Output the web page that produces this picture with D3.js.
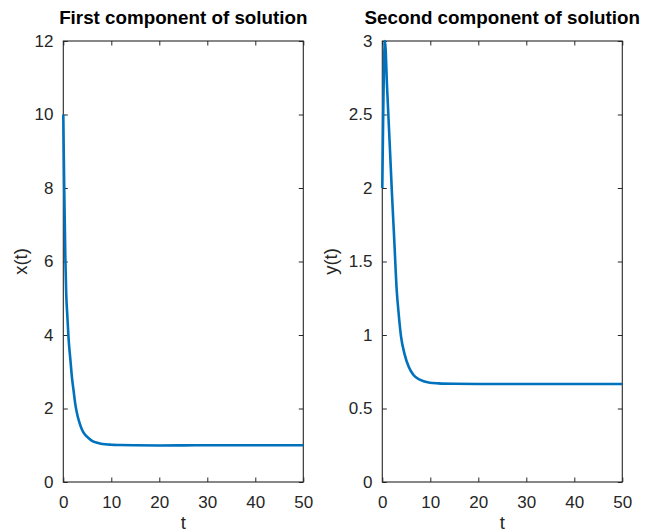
<!DOCTYPE html>
<html>
<head>
<meta charset="utf-8">
<script src="https://cdn.jsdelivr.net/npm/d3@7"></script>
<style>
  html, body { margin: 0; padding: 0; background: #ffffff; }
  svg { display: block; }
  text { font-family: "Liberation Sans", Arial, Helvetica, sans-serif; fill: #262626; }
</style>
</head>
<body>
<svg id="chart" width="646" height="531"></svg>
<script>
// ---- Data ----
const tFirst = [0, 0.1, 0.2, 0.42, 0.6, 0.85, 1.1, 1.46, 1.8, 2.16, 2.5, 2.85, 3.3, 3.9, 4.5, 5.3, 6.0, 6.7, 7.6, 8.75, 10, 11.9, 15, 20, 25, 30, 35, 40, 45, 50];
const xFirst = [10, 8.9, 7.95, 6.13, 5.15, 4.5, 3.9, 3.35, 2.85, 2.47, 2.12, 1.87, 1.64, 1.42, 1.29, 1.19, 1.12, 1.08, 1.05, 1.026, 1.015, 1.007, 1.0, 0.995, 0.997, 1.0, 1.002, 1.0, 1.0, 1.0];

const tSecond = [0, 0.55, 1.0, 1.5, 2.0, 2.5, 3.0, 3.4, 3.9, 4.6, 5.5, 6.5, 7.9, 9.9, 11.7, 15, 20, 30, 40, 50];
const ySecond = [2.0, 3.0, 2.68, 2.33, 1.97, 1.64, 1.306, 1.148, 0.99, 0.875, 0.784, 0.728, 0.694, 0.675, 0.671, 0.668, 0.667, 0.667, 0.667, 0.667];

const xTicks = [0, 10, 20, 30, 40, 50];
const yTicksFirst = [0, 2, 4, 6, 8, 10, 12];
const yTicksSecond = [0, 0.5, 1, 1.5, 2, 2.5, 3];

const titles = ["First component of solution", "Second component of solution"];
const yLabels = ["x(t)", "y(t)"];
const xLabel = "t";

// ---- Layout ----
const svg = d3.select("#chart");
const panels = [
  { left: 63.3, t: tFirst, v: xFirst, yDomain: [0, 12], yTicks: yTicksFirst, fmt: d3.format("d"), title: titles[0], ylab: yLabels[0], ylabX: 27 },
  { left: 382.3, t: tSecond, v: ySecond, yDomain: [0, 3], yTicks: yTicksSecond, fmt: d => String(d), title: titles[1], ylab: yLabels[1], ylabX: 337 }
];
const plotTop = 41, plotBottom = 482, plotWidth = 240;
const tickLen = 4.5;
const axisColor = "#262626";

panels.forEach(p => {
  const x = d3.scaleLinear().domain([0, 50]).range([p.left, p.left + plotWidth]);
  const y = d3.scaleLinear().domain(p.yDomain).range([plotBottom, plotTop]);
  const g = svg.append("g");

  const gb = g.append("g").attr("transform", `translate(0,${plotBottom})`)
    .call(d3.axisBottom(x).tickValues(xTicks).tickFormat(d3.format("d")).tickSizeInner(-tickLen).tickSizeOuter(0).tickPadding(13.8));
  const gt = g.append("g").attr("transform", `translate(0,${plotTop})`)
    .call(d3.axisTop(x).tickValues(xTicks).tickFormat("").tickSizeInner(-tickLen).tickSizeOuter(0));
  const gl = g.append("g").attr("transform", `translate(${p.left},0)`)
    .call(d3.axisLeft(y).tickValues(p.yTicks).tickFormat(p.fmt).tickSizeInner(-tickLen).tickSizeOuter(0).tickPadding(9.8));
  const gr = g.append("g").attr("transform", `translate(${p.left + plotWidth},0)`)
    .call(d3.axisRight(y).tickValues(p.yTicks).tickFormat("").tickSizeInner(-tickLen).tickSizeOuter(0));

  [gb, gt, gl, gr].forEach(a => {
    a.select(".domain").remove();
    a.selectAll(".tick line").attr("stroke", axisColor).attr("stroke-width", 1);
    a.selectAll(".tick text").attr("font-size", 17).attr("font-family", "Liberation Sans, Arial, sans-serif").attr("fill", axisColor);
  });

  g.append("rect")
    .attr("x", p.left).attr("y", plotTop)
    .attr("width", plotWidth).attr("height", plotBottom - plotTop)
    .attr("fill", "none").attr("stroke", axisColor).attr("stroke-width", 1.1);

  const line = d3.line().x((d, i) => x(p.t[i])).y(d => y(d)).curve(d3.curveMonotoneX);
  g.append("path")
    .datum(p.v)
    .attr("d", line)
    .attr("fill", "none")
    .attr("stroke", "#0072BD")
    .attr("stroke-width", 2.6)
    .attr("stroke-linejoin", "round");

  g.append("text")
    .attr("x", p.left + plotWidth / 2).attr("y", 23.5)
    .attr("text-anchor", "middle")
    .attr("font-size", 18.8).attr("font-weight", "bold")
    .style("fill", "#000")
    .text(p.title);

  g.append("text")
    .attr("x", p.left + plotWidth / 2).attr("y", 528.5)
    .attr("text-anchor", "middle")
    .attr("font-size", 18.5)
    .text(xLabel);

  g.append("text")
    .attr("transform", `translate(${p.ylabX},${(plotTop + plotBottom) / 2}) rotate(-90)`)
    .attr("text-anchor", "middle")
    .attr("font-size", 18.5)
    .text(p.ylab);
});
</script>
</body>
</html>
